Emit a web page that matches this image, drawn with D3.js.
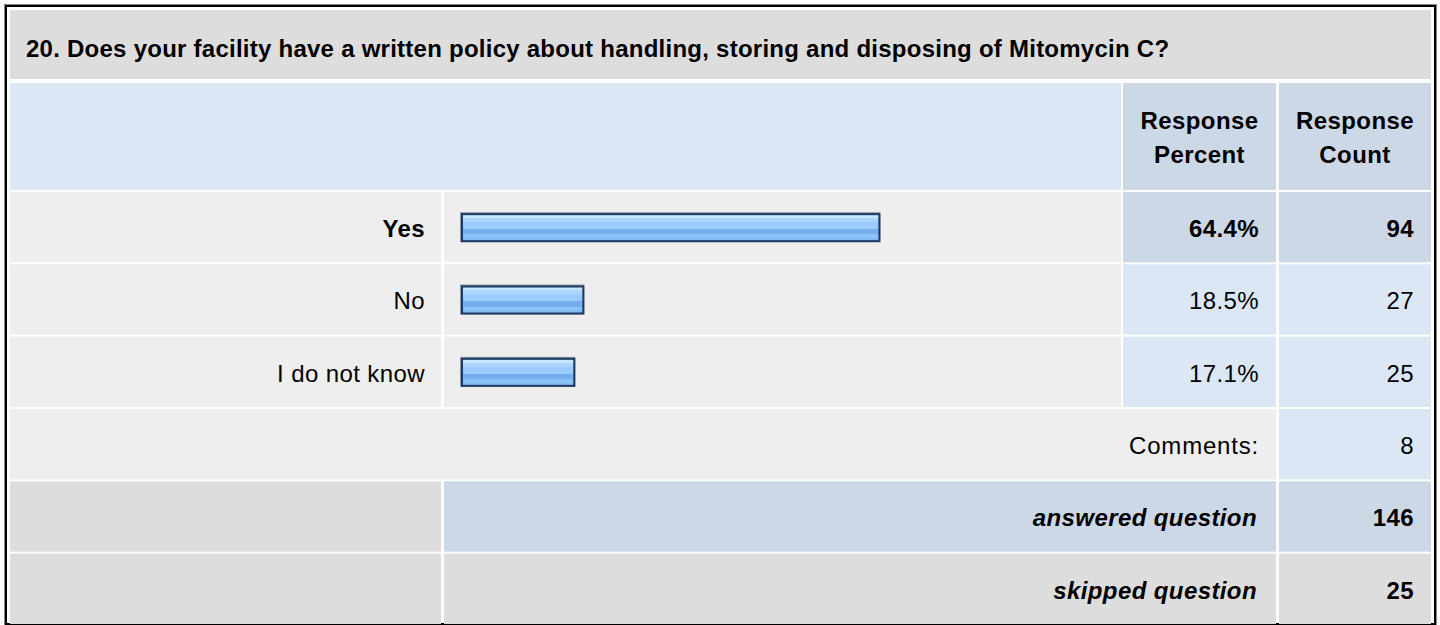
<!DOCTYPE html>
<html>
<head>
  <meta charset="utf-8">
  <title>Survey question 20</title>
  <script src="https://d3js.org/d3.v7.min.js"></script>
  <style>
    body { margin: 0; background: #fff; }
    svg { display: block; font-family: "Liberation Sans", Arial, sans-serif; }
  </style>
</head>
<body>

<svg id="chart"></svg>

<script>

var title = '20. Does your facility have a written policy about handling, storing and disposing of Mitomycin C?'
var headers = [['Response', 'Percent'], ['Response', 'Count']]
var answers = ['Yes', 'No', 'I do not know']
var percents = [64.4, 18.5, 17.1]
var counts = [94, 27, 25]
var comments = 8
var answered = 146
var skipped = 25

var width = 1440, height = 625

var svg = d3.select('#chart')
  .attr('width', width)
  .attr('height', height)

// column edges
var colLabel = [10, 441], colBar = [444, 1121], colPct = [1123, 1276], colCnt = [1279, 1431]

// rows: 3 answers + comments + answered + skipped
var rowNames = answers.concat(['comments', 'answered', 'skipped'])
var y = d3.scaleBand()
  .domain(rowNames)
  .range([192, 192 + 72 * rowNames.length])
  .paddingInner(2 / 72)

var x = d3.scaleLinear()
  .domain([0, 100])
  .range([460, 460 + 645])

var topPick = d3.max(percents)

var defs = svg.append('defs')
var grad = defs.append('linearGradient')
  .attr('id', 'barGrad')
  .attr('x1', 0).attr('y1', 0).attr('x2', 0).attr('y2', 1)
var stops = [
  [0, '#c9e6ff'], [0.14, '#c9e6ff'], [0.14, '#aad5fe'], [0.3, '#aad5fe'],
  [0.3, '#9acbfc'], [0.55, '#9acbfc'], [0.55, '#76adef'], [0.75, '#76adef'],
  [0.75, '#8dc2f9'], [0.88, '#8dc2f9'], [0.88, '#82baf4'], [1, '#82baf4']
]
stops.forEach(function(s) {
  grad.append('stop').attr('offset', s[0]).attr('stop-color', s[1])
})

// outer frame
svg.append('rect')
  .attr('x', 4.5).attr('y', 4.5)
  .attr('width', 1432).attr('height', 625)
  .attr('fill', 'none').attr('stroke', '#888').attr('stroke-width', 1)
svg.append('rect')
  .attr('x', 6).attr('y', 6)
  .attr('width', 1429).attr('height', 618)
  .attr('fill', 'none').attr('stroke', '#000').attr('stroke-width', 2)

function cell(x0, x1, y0, y1, fill) {
  svg.append('rect')
    .attr('x', x0).attr('y', y0)
    .attr('width', x1 - x0).attr('height', y1 - y0)
    .attr('fill', fill)
}

function text(str, xp, yp, anchor, opts) {
  opts = opts || {}
  return svg.append('text')
    .attr('x', xp).attr('y', yp)
    .attr('text-anchor', anchor)
    .attr('font-size', opts.size || 24)
    .attr('font-weight', opts.bold ? 'bold' : 'normal')
    .attr('font-style', opts.italic ? 'italic' : 'normal')
    .attr('letter-spacing', opts.ls != null ? opts.ls : 0.4)
    .attr('fill', '#000')
    .text(str)
}

// title
cell(colLabel[0], colCnt[1], 10, 79, '#dddddd')
text(title, 26, 57, 'start', {bold: true, size: 24, ls: 0.25})

// header
cell(colLabel[0], colBar[1], 83, 190, '#dce7f5')
cell(colPct[0], colPct[1], 83, 190, '#ccd8e6')
cell(colCnt[0], colCnt[1], 83, 190, '#ccd8e6')
;[colPct, colCnt].forEach(function(c, i) {
  var cx = (c[0] + c[1]) / 2
  text(headers[i][0], cx, 129, 'middle', {bold: true})
  text(headers[i][1], cx, 163, 'middle', {bold: true})
})

// answer rows
answers.forEach(function(a, i) {
  var y0 = y(a), y1 = y0 + y.bandwidth()
  var top = percents[i] === topPick
  var side = top ? '#ccd8e6' : '#dce7f5'
  cell(colLabel[0], colLabel[1], y0, y1, '#eeeeee')
  cell(colBar[0], colBar[1], y0, y1, '#eeeeee')
  cell(colPct[0], colPct[1], y0, y1, side)
  cell(colCnt[0], colCnt[1], y0, y1, side)

  text(a, colLabel[1] - 16, y0 + 45, 'end', {bold: top})
  text(percents[i].toFixed(1) + '%', colPct[1] - 17, y0 + 45, 'end', {bold: top})
  text(counts[i], colCnt[1] - 17, y0 + 45, 'end', {bold: top})

  var bw = x(percents[i]) - x(0)
  var by = y0 + y.bandwidth() / 2 - 15
  // faint shadow on top/left
  svg.append('rect')
    .attr('x', x(0)).attr('y', by)
    .attr('width', bw + 5).attr('height', 30)
    .attr('fill', '#8e96a3')
  svg.append('rect')
    .attr('x', x(0) + 2).attr('y', by + 2)
    .attr('width', bw + 2).attr('height', 27)
    .attr('fill', 'url(#barGrad)')
    .attr('stroke', '#1d3a62').attr('stroke-width', 2)
})

// comments row
var yc = y('comments')
cell(colLabel[0], colPct[1], yc, yc + y.bandwidth(), '#eeeeee')
cell(colCnt[0], colCnt[1], yc, yc + y.bandwidth(), '#dce7f5')
text('Comments:', colPct[1] - 17, yc + 45, 'end', {ls: 0.8})
text(comments, colCnt[1] - 17, yc + 45, 'end')

// answered row
var ya = y('answered')
cell(colLabel[0], colLabel[1], ya, ya + y.bandwidth(), '#dddddd')
cell(colBar[0], colPct[1], ya, ya + y.bandwidth(), '#ccd8e6')
cell(colCnt[0], colCnt[1], ya, ya + y.bandwidth(), '#ccd8e6')
text('answered question', colPct[1] - 19, ya + 45, 'end', {bold: true, italic: true})
text(answered, colCnt[1] - 17, ya + 45, 'end', {bold: true})

// skipped row
var ys = y('skipped')
cell(colLabel[0], colLabel[1], ys, ys + y.bandwidth(), '#dddddd')
cell(colBar[0], colPct[1], ys, ys + y.bandwidth(), '#dddddd')
cell(colCnt[0], colCnt[1], ys, ys + y.bandwidth(), '#dddddd')
text('skipped question', colPct[1] - 19, ys + 45, 'end', {bold: true, italic: true})
text(skipped, colCnt[1] - 17, ys + 45, 'end', {bold: true})

</script>

</body>
</html>
